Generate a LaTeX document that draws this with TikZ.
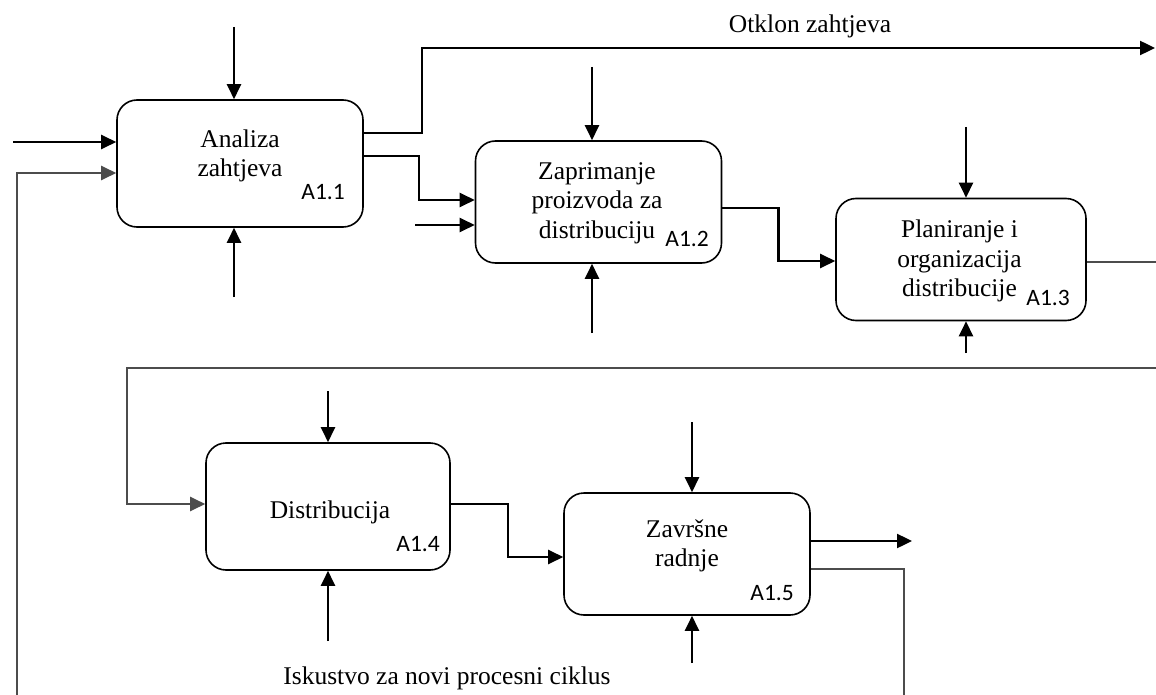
\documentclass[tikz,border=0pt]{standalone}
\usepackage{fontspec}
\setmainfont{Liberation Serif}
\newfontfamily\carlito{Carlito}
\usetikzlibrary{arrows.meta, positioning, calc}

\begin{document}
\begin{tikzpicture}[x=1pt, y=-1pt, blok/.style={draw, rounded corners=20pt, line width=1.6pt, minimum width=246pt, minimum height=122pt}, naziv/.style={font=\fontsize{25.5}{29.5}\selectfont, align=center}, oznaka/.style={font=\carlito\fontsize{23.5}{23.5}\selectfont, anchor=base east, inner sep=0pt}, tok/.style={line width=2.4pt, -{Triangle[length=15pt, width=14pt]}}, petlja/.style={tok, draw=black!70}]
        \useasboundingbox (0,0) rectangle (1156,695);
        \clip (0,0) rectangle (1156,695);
        % aktivnosti
        \node[blok, minimum height=127pt] (a11) at (240,163.5) {};
        \node[blok] (a12) at (598.5,202) {};
        \node[blok, minimum width=250pt] (a13) at (961,259.5) {};
        \node[blok, minimum height=127pt, minimum width=244pt] (a14) at (328,506.5) {};
        \node[blok] (a15) at (687,554) {};
        \node[naziv] (t11) at (240,156) {Analiza\\zahtjeva};
        \node[naziv] (t12) at (597,203) {Zaprimanje\\proizvoda za\\distribuciju};
        \node[naziv] (t13) at (959.5,261) {Planiranje i\\organizacija\\distribucije};
        \node[naziv] (t14) at (330,512) {Distribucija};
        \node[naziv] (t15) at (687,546) {Završne\\radnje};
        \node[oznaka] (o11) at (345,200) {A1.1};
        \node[oznaka] (o12) at (709,246) {A1.2};
        \node[oznaka] (o13) at (1070,305) {A1.3};
        \node[oznaka] (o14) at (440,551) {A1.4};
        \node[oznaka] (o15) at (794,600) {A1.5};
        \node[naziv, anchor=base] (otklon) at (810,33) {Otklon zahtjeva};
        \node[naziv, anchor=base] (iskustvo) at (447,684) {Iskustvo za novi procesni ciklus};
        % kontrole i mehanizmi
        \foreach \b/\x/\g/\d in {a11/234/27/297, a12/592/67/333, a13/966/127/353, a14/328/391/641, a15/692/422/663} {
            \coordinate (k\b) at (\x,\g);
            \coordinate (m\b) at (\x,\d);
            \draw[tok] (k\b) -- (k\b |- \b.north);
            \draw[tok] (m\b) -- (m\b |- \b.south);
        }
        % ulazi i izlazi
        \coordinate (ul1) at (13,142);
        \coordinate (ul2) at (415,225);
        \coordinate (otk) at (1155,48);
        \coordinate (izlaz) at (912,541);
        \draw[tok] (ul1) -- (ul1 -| a11.west);
        \draw[tok] (ul2) -- (ul2 -| a12.west);
        \draw[tok] ([yshift=30.5pt]a11.east) -- ++(58,0) |- (otk);
        \draw[tok] ([yshift=7.5pt]a11.east) -- ++(55,0) |- ([yshift=2pt]a12.west);
        \draw[tok] ([yshift=-6pt]a12.east) -- ++(56,0) |- ([yshift=-1.5pt]a13.west);
        \draw[tok] ([yshift=2.5pt]a14.east) -- ++(57,0) |- ([yshift=-3pt]a15.west);
        \draw[tok] ([yshift=13pt]a15.east) -- (izlaz);
        % povratne veze
        \draw[petlja] ([yshift=-2.5pt]a13.east) -- ++(90,0) |- (127,368) |- ([yshift=2.5pt]a14.west);
        \draw[petlja] ([yshift=-15pt]a15.east) -| (904,720) -- (17,720) |- ([yshift=-9.5pt]a11.west);
    \end{tikzpicture}
\end{document}
